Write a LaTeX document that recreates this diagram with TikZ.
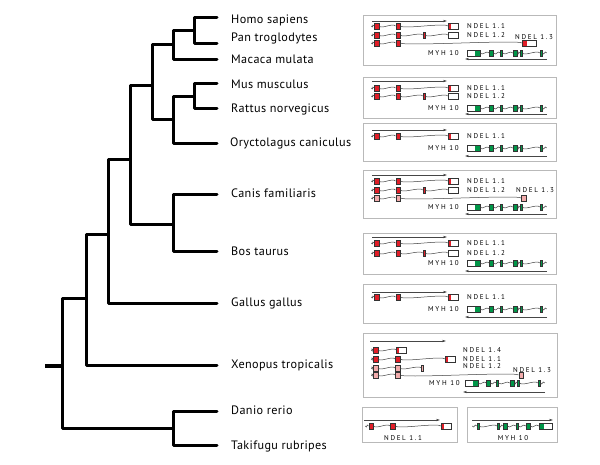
\documentclass[tikz,border=0pt]{standalone}
\usepackage{fontspec}
\setmainfont{PT Sans}
\usetikzlibrary{arrows.meta}
\definecolor{exonred}{RGB}{225,30,40}
\definecolor{exonpink}{RGB}{242,172,172}
\definecolor{exongreen}{RGB}{0,150,72}
\definecolor{panelgray}{RGB}{185,185,185}
\definecolor{strandgray}{RGB}{70,70,70}
\newcommand{\generow}[3]{
  \foreach \ex/\es [count=\ei, remember=\ei as \ej (initially 0)] in {#3} {
    \node[\es] (#1-\ei) at (\ex,#2) {};
    \ifnum\ei>1 \draw[intron] (#1-\ej.east) to (#1-\ei.west); \fi
  }
}
\newcommand{\strand}[4]{
  \coordinate (#1-a) at (#2,#4);
  \coordinate (#1-b) at (#3,#4);
  \draw[strand] (#1-a) -- (#1-b);
}

\begin{document}
\begin{tikzpicture}[x=1pt,y=-1pt]

%
% Styles
%
\tikzstyle{branch} = [line width=3pt,line join=round,line cap=round]
\tikzstyle{taxon} = [anchor=west,inner sep=0pt,font=\fontsize{12.2}{14}\selectfont\addfontfeature{LetterSpace=3}]
\tikzstyle{genelabel} = [anchor=west,inner sep=0pt,font=\fontsize{7}{8}\selectfont\addfontfeature{LetterSpace=24}]
\tikzstyle{panel} = [draw=panelgray,line width=0.9pt]
\tikzstyle{strand} = [draw=strandgray,line width=0.6pt,-{Stealth[length=4pt,width=2.4pt]}]
\tikzstyle{intron} = [draw=black!75,line width=0.5pt,out=-50,in=130,out distance=4.5pt,in distance=4.5pt]
\tikzstyle{exon} = [rectangle,draw=black!80,line width=0.35pt,inner sep=0pt,minimum width=4.5pt,minimum height=6pt]
\tikzstyle{tail} = [rectangle,inner sep=0pt,minimum size=0pt]
\tikzstyle{ndel} = [exon,fill=exonred]
\tikzstyle{ndel thin} = [ndel,minimum width=2pt]
\tikzstyle{pale} = [exon,fill=exonpink]
\tikzstyle{pale thin} = [pale,minimum width=2pt]
\tikzstyle{myh} = [exon,fill=exongreen,minimum width=4pt]
\tikzstyle{myh thin} = [myh,minimum width=2pt]
\tikzstyle{utr} = [exon,fill=white,minimum width=10pt]
\tikzstyle{ndel end} = [utr,path picture={\fill[exonred] (path picture bounding box.south west) rectangle ([xshift=2.5pt]path picture bounding box.north west);}]
\tikzstyle{ndel long end} = [utr,minimum width=14pt,path picture={\fill[exonred] (path picture bounding box.south west) rectangle ([xshift=5pt]path picture bounding box.north west);}]
\tikzstyle{myh start} = [utr,minimum width=12.5pt,path picture={\fill[exongreen] (path picture bounding box.south east) rectangle ([xshift=-4.5pt]path picture bounding box.north east);}]
\tikzstyle{myh end} = [utr,minimum width=13pt,path picture={\fill[exongreen] (path picture bounding box.south west) rectangle ([xshift=5pt]path picture bounding box.north west);}]

\useasboundingbox (0,0) rectangle (600,464);

%
% Tree
%
\node[taxon] (homo)    at (231, 20) {Homo sapiens};
\node[taxon] (pan)     at (231, 38) {Pan troglodytes};
\node[taxon] (macaca)  at (231, 59) {Macaca mulata};
\node[taxon] (mus)     at (231, 84) {Mus musculus};
\node[taxon] (rattus)  at (231,109) {Rattus norvegicus};
\node[taxon] (oryct)   at (230,143) {Oryctolagus caniculus};
\node[taxon] (canis)   at (231,193) {Canis familiaris};
\node[taxon] (bos)     at (231,251) {Bos taurus};
\node[taxon] (gallus)  at (231,303) {Gallus gallus};
\node[taxon] (xenopus) at (231,365) {Xenopus tropicalis};
\node[taxon] (danio)   at (231,410) {Danio rerio};
\node[taxon] (taki)    at (231,446) {Takifugu rubripes};

\coordinate (homo tip)    at (217, 17);
\coordinate (pan tip)     at (217, 43);
\coordinate (macaca tip)  at (217, 59);
\coordinate (mus tip)     at (217, 83);
\coordinate (rattus tip)  at (217,108);
\coordinate (oryct tip)   at (217,143);
\coordinate (canis tip)   at (217,194);
\coordinate (bos tip)     at (217,251);
\coordinate (gallus tip)  at (217,303);
\coordinate (xenopus tip) at (217,365);
\coordinate (danio tip)   at (217,411);
\coordinate (taki tip)    at (217,445);

\coordinate (hp)      at (194, 30);
\coordinate (hpm)     at (173, 44);
\coordinate (mr)      at (194, 96);
\coordinate (mro)     at (173,119);
\coordinate (euarch)  at (152, 85);
\coordinate (canbos)  at (173,224);
\coordinate (boreo)   at (130,159);
\coordinate (amniota) at (108,234);
\coordinate (tetra)   at ( 86,298);
\coordinate (fish)    at (173,428);
\coordinate (root)    at ( 62,366);
\coordinate (stub)    at ( 45,366);

\draw[branch] (homo tip) -| (hp) |- (pan tip);
\draw[branch] (hp) -| (hpm) |- (macaca tip);
\draw[branch] (mus tip) -| (mr) |- (rattus tip);
\draw[branch] (mr) -| (mro) |- (oryct tip);
\draw[branch] (hpm) -| (euarch) |- (mro);
\draw[branch] (canis tip) -| (canbos) |- (bos tip);
\draw[branch] (euarch) -| (boreo) |- (canbos);
\draw[branch] (boreo) -| (amniota) |- (gallus tip);
\draw[branch] (amniota) -| (tetra) |- (xenopus tip);
\draw[branch] (danio tip) -| (fish) |- (taki tip);
\draw[branch] (tetra) -| (root) |- (fish);
\draw[branch,line width=4pt,line cap=butt] (stub) -- (root);

%
% Gene panels
%
% Homo / Pan / Macaca
\draw[panel] (363,15) rectangle (556,65);
\strand{b1f}{372}{447}{21}
\generow{b1n11}{26}{371/tail,376.5/ndel,398/ndel,453/ndel end}
\generow{b1n12}{35}{371/tail,376.5/ndel,398/ndel,424/ndel thin,453/utr}
\generow{b1n13}{43}{371/tail,376.5/ndel,398/ndel,529/ndel long end}
\generow{b1m}{53}{473.5/myh start,491.5/myh,501.5/myh thin,515/myh,521/myh thin,541/myh thin,547/tail}
\strand{b1r}{547}{465}{59}
\node[genelabel] (b1l11) at (467,26) {NDEL 1.1};
\node[genelabel] (b1l12) at (467,35) {NDEL 1.2};
\node[genelabel] (b1l13) at (515,37) {NDEL 1.3};
\node[genelabel] (b1lm)  at (428,53) {MYH 10};

% Mus / Rattus
\draw[panel] (363,77) rectangle (556,118);
\strand{b2f}{372}{447}{81}
\generow{b2n11}{88}{371/tail,376.5/ndel,398/ndel,453/ndel end}
\generow{b2n12}{96}{371/tail,376.5/ndel,398/ndel,424/ndel thin,453/utr}
\generow{b2m}{108}{473.5/myh start,491.5/myh,501.5/myh thin,515/myh,521/myh thin,541/myh thin,547/tail}
\strand{b2r}{547}{465}{114}
\node[genelabel] (b2l11) at (467,88) {NDEL 1.1};
\node[genelabel] (b2l12) at (467,96) {NDEL 1.2};
\node[genelabel] (b2lm)  at (428,108) {MYH 10};

% Oryctolagus
\draw[panel] (363,123) rectangle (556,161);
\strand{b3f}{372}{447}{130}
\generow{b3n11}{136}{371/tail,376.5/ndel,398/ndel,453/ndel end}
\generow{b3m}{148}{473.5/myh start,491.5/myh,501.5/myh thin,515/myh,521/myh thin,541/myh thin,547/tail}
\strand{b3r}{547}{465}{156}
\node[genelabel] (b3l11) at (467,136) {NDEL 1.1};
\node[genelabel] (b3lm)  at (428,148) {MYH 10};

% Canis
\draw[panel] (363,170) rectangle (556,218);
\strand{b4f}{372}{447}{175}
\generow{b4n11}{181}{371/tail,376.5/ndel,398/ndel,453/ndel end}
\generow{b4n12}{190}{371/tail,376.5/ndel,398/ndel,424/ndel thin,453/utr}
\generow{b4n13}{198}{371/tail,376.5/pale,398/pale,523.5/pale}
\generow{b4m}{207}{473.5/myh start,491.5/myh,501.5/myh thin,515/myh,521/myh thin,541/myh thin,547/tail}
\strand{b4r}{547}{465}{214}
\node[genelabel] (b4l11) at (467,181) {NDEL 1.1};
\node[genelabel] (b4l12) at (467,190) {NDEL 1.2};
\node[genelabel] (b4l13) at (516,190) {NDEL 1.3};
\node[genelabel] (b4lm)  at (428,207) {MYH 10};

% Bos
\draw[panel] (363,233) rectangle (556,274);
\strand{b5f}{372}{447}{237}
\generow{b5n11}{243}{371/tail,376.5/ndel,398/ndel,453/ndel end}
\generow{b5n12}{253}{371/tail,376.5/ndel,398/ndel,424/ndel thin,453/utr}
\generow{b5m}{263}{473.5/myh start,491.5/myh,501.5/myh thin,515/myh,521/myh thin,541/myh thin,547/tail}
\strand{b5r}{547}{465}{271}
\node[genelabel] (b5l11) at (467,243) {NDEL 1.1};
\node[genelabel] (b5l12) at (467,253) {NDEL 1.2};
\node[genelabel] (b5lm)  at (428,263) {MYH 10};

% Gallus
\draw[panel] (363,284) rectangle (556,323);
\strand{b6f}{372}{447}{292}
\generow{b6n11}{297}{371/tail,376.5/ndel,398/ndel,453/ndel end}
\generow{b6m}{309}{473.5/myh start,491.5/myh,501.5/myh thin,515/myh,521/myh thin,541/myh thin,547/tail}
\strand{b6r}{547}{465}{317}
\node[genelabel] (b6l11) at (467,297) {NDEL 1.1};
\node[genelabel] (b6lm)  at (428,309) {MYH 10};

% Xenopus
\draw[panel] (363,333) rectangle (557,397);
\strand{b7f}{370}{446}{341}
\generow{b7n14}{350}{371/tail,375.5/ndel,401.5/ndel end}
\generow{b7n11}{359}{371/tail,375.5/ndel,397.5/ndel,450.5/ndel end}
\generow{b7n12}{368}{371/tail,375.5/pale,397.5/pale,422.5/pale thin}
\generow{b7n13}{375}{371/tail,375.5/pale,397.5/pale,521/pale}
\generow{b7m}{383}{471.5/myh start,488.5/myh,497.5/myh thin,512/myh,518.5/myh thin,539/myh thin,545/tail}
\strand{b7r}{545}{463}{392}
\node[genelabel] (b7l14) at (463,350) {NDEL 1.4};
\node[genelabel] (b7l11) at (463,359) {NDEL 1.1};
\node[genelabel] (b7l12) at (463,366) {NDEL 1.2};
\node[genelabel] (b7l13) at (513,370) {NDEL 1.3};
\node[genelabel] (b7lm)  at (429,383) {MYH 10};

% Danio / Takifugu
\draw[panel] (362,407) rectangle (457,442);
\strand{b8f}{364}{440}{420}
\generow{b8n}{426}{365/tail,371/ndel,392.5/ndel,446/ndel end}
\node[genelabel,anchor=center] (b8ln) at (403,438) {NDEL 1.1};
\draw[panel] (467,407) rectangle (557,442);
\strand{b9f}{472}{553}{420}
\generow{b9m}{426}{472/tail,478/myh thin,498/myh thin,505/myh,517/myh thin,528/myh,545.5/myh end}
\node[genelabel,anchor=center] (b9lm) at (513,438) {MYH 10};

\end{tikzpicture}
\end{document}
